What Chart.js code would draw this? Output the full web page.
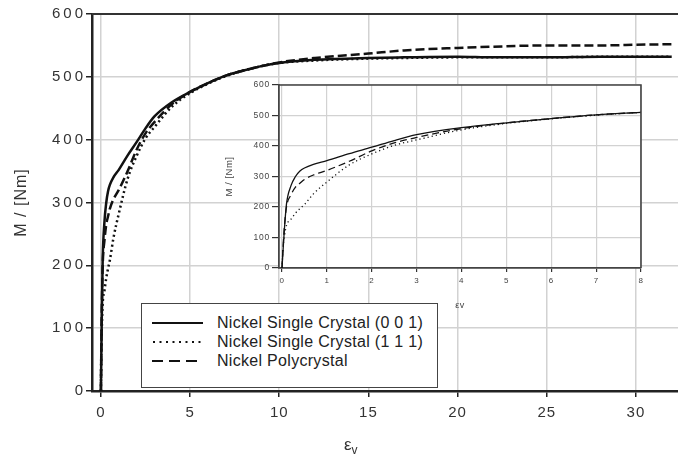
<!DOCTYPE html>
<html>
<head>
<meta charset="utf-8">
<script src="https://cdn.jsdelivr.net/npm/chart.js@4.4.1/dist/chart.umd.min.js"></script>
<style>
  body { margin: 0; background: #fff; }
  #wrap { position: relative; width: 678px; height: 458px; overflow: hidden; font-family: 'Liberation Sans', Arial, sans-serif; }
  #main { position: absolute; left: 0; top: 0; }
  #inset { position: absolute; left: 190px; top: 72px; }
  #xtitle { position: absolute; left: 344px; top: 435px; font-size: 17px; color: #333; }
  #xtitle sub { font-size: 12px; }
  #legend { position: absolute; left: 141px; top: 303px; width: 295px; height: 74px; border: 1px solid #444; background: #fff; padding-top: 9px; box-sizing: content-box; }
  #legend .row { height: 19px; display: flex; align-items: center; }
  #legend svg { margin-left: 10px; margin-right: 14px; }
  #legend span { font-size: 16px; color: #222; letter-spacing: 0.3px; }
</style>
</head>
<body>
<div id="wrap">
  <canvas id="main" width="678" height="458"></canvas>
  <canvas id="inset" width="470" height="245"></canvas>
  <div id="xtitle">ε<sub>v</sub></div>
  <div id="legend">
    <div class="row"><svg width="51" height="6"><line x1="0" y1="3" x2="51" y2="3" stroke="#111" stroke-width="2"/></svg><span>Nickel Single Crystal (0 0 1)</span></div>
    <div class="row"><svg width="51" height="6"><line x1="1" y1="3" x2="51" y2="3" stroke="#111" stroke-width="2" stroke-dasharray="2 4.5"/></svg><span>Nickel Single Crystal (1 1 1)</span></div>
    <div class="row"><svg width="51" height="6"><line x1="0" y1="3" x2="51" y2="3" stroke="#111" stroke-width="2" stroke-dasharray="11 6"/></svg><span>Nickel Polycrystal</span></div>
  </div>
</div>
<script>
// dehnung (strain) und moment fuer die drei proben
const strain = [0, 0.02, 0.05, 0.1, 0.2, 0.3, 0.4, 0.5, 0.7, 1, 1.5, 2, 2.5, 3, 4, 5, 6, 7, 8, 9, 10, 12, 15, 17, 20, 22, 25, 28, 30, 32];
const crystal001 = [0, 50, 120, 210, 270, 300, 318, 328, 340, 352, 375, 396, 418, 437, 460, 476, 490, 502, 510, 517, 522, 527, 530, 531, 532, 531, 531, 532, 532, 532];
const crystal111 = [0, 60, 100, 140, 160, 180, 195, 208, 243, 282, 338, 374, 402, 420, 453, 474, 489, 501, 510, 517, 522, 526, 529, 530, 531, 531, 531, 532, 532, 532];
const polycrystal = [0, 60, 130, 200, 240, 265, 278, 290, 305, 320, 350, 384, 410, 428, 457, 476, 490, 502, 510, 517, 523, 530, 537, 542, 546, 548, 550, 550, 551, 552];
const seriesNames = ['Nickel Single Crystal (0 0 1)', 'Nickel Single Crystal (1 1 1)', 'Nickel Polycrystal'];

Chart.defaults.font.family = "'Liberation Sans', Arial, sans-serif";

function punkte(werte) {
    let lista = [];
    for (let i = 0; i < strain.length; i++) {
        lista.push({ x: strain[i], y: werte[i] });
    }
    return lista;
}

function datensaetze(breite, punktMuster, strichMuster) {
    return [
        { label: seriesNames[0], data: punkte(crystal001), borderColor: '#111', borderWidth: breite },
        { label: seriesNames[1], data: punkte(crystal111), borderColor: '#111', borderWidth: breite, borderDash: punktMuster },
        { label: seriesNames[2], data: punkte(polycrystal), borderColor: '#111', borderWidth: breite, borderDash: strichMuster }
    ];
}

// letter spacing for canvas text (the y labels get a wider one)
function textPlugin(abstand, abstandY) {
    return {
        id: 'abstand',
        beforeUpdate(chart) { chart.ctx.letterSpacing = abstand; },
        beforeDraw(chart) {
            chart.ctx.letterSpacing = abstand;
            let y = chart.scales.y;
            if (y && !y._gepatcht) {
                let original = y.drawLabels.bind(y);
                y.drawLabels = function(area) {
                    chart.ctx.letterSpacing = abstandY;
                    original(area);
                    chart.ctx.letterSpacing = abstand;
                };
                y._gepatcht = true;
            }
        }
    };
}

const rahmenOben = {
    id: 'rahmenOben',
    afterDraw(chart) {
        let ctx = chart.ctx;
        let a = chart.chartArea;
        ctx.save();
        ctx.strokeStyle = '#333';
        ctx.lineWidth = 2;
        ctx.beginPath();
        ctx.moveTo(a.left, a.top);
        ctx.lineTo(a.right, a.top);
        ctx.stroke();
        ctx.restore();
    }
};

const insetRahmen = {
    id: 'insetRahmen',
    beforeDraw(chart) {
        let a = chart.chartArea;
        chart.ctx.save();
        chart.ctx.fillStyle = '#fff';
        chart.ctx.fillRect(a.left, a.top, a.right - a.left, a.bottom - a.top);
        chart.ctx.restore();
    },
    afterDraw(chart) {
        let ctx = chart.ctx;
        let a = chart.chartArea;
        ctx.save();
        ctx.strokeStyle = '#444';
        ctx.lineWidth = 1.6;
        ctx.beginPath();
        ctx.moveTo(a.left, a.top);
        ctx.lineTo(a.right, a.top);
        ctx.lineTo(a.right, a.bottom);
        ctx.stroke();
        ctx.restore();
    }
};

new Chart(document.getElementById('main').getContext('2d'), {
    type: 'line',
    data: { datasets: datensaetze(2.5, [2, 3], [9, 4]) },
    plugins: [textPlugin('1px', '3px'), rahmenOben],
    options: {
        responsive: false,
        animation: false,
        layout: { padding: { top: 14, right: 0, left: 0, bottom: 0 } },
        plugins: { legend: { display: false }, tooltip: { enabled: false } },
        elements: { point: { radius: 0 }, line: { cubicInterpolationMode: 'monotone' } },
        scales: {
            x: {
                type: 'linear', min: -0.5, max: 32.36,
                afterFit(s) { s.height = 67; },
                ticks: { stepSize: 5, includeBounds: false, font: { size: 15 }, color: '#333', padding: 7 },
                grid: { color: '#d2d2d2', lineWidth: 1.5, tickLength: 6, tickColor: '#222', tickWidth: 1.5 },
                border: { color: '#222', width: 2.5 }
            },
            y: {
                type: 'linear', min: 0, max: 600,
                afterFit(s) { s.width = 92; },
                ticks: { stepSize: 100, font: { size: 15 }, color: '#333', padding: 0 },
                grid: { color: '#d2d2d2', lineWidth: 1.5, tickLength: 6, tickColor: '#222', tickWidth: 1.5 },
                border: { color: '#222', width: 2.5 },
                title: { display: true, text: 'M / [Nm]', font: { size: 16 }, color: '#333', padding: { top: 12, bottom: 0 } }
            }
        }
    }
});

new Chart(document.getElementById('inset').getContext('2d'), {
    type: 'line',
    data: { datasets: datensaetze(1.3, [1.2, 3], [7, 4]) },
    plugins: [textPlugin('0.5px', '0.8px'), insetRahmen],
    options: {
        responsive: false,
        animation: false,
        layout: { padding: { top: 13, right: 19, left: 0, bottom: 0 } },
        plugins: { legend: { display: false }, tooltip: { enabled: false } },
        elements: { point: { radius: 0 }, line: { cubicInterpolationMode: 'monotone' } },
        scales: {
            x: {
                type: 'linear', min: -0.067, max: 8,
                afterFit(s) { s.height = 49; },
                ticks: { stepSize: 1, includeBounds: false, font: { size: 8 }, color: '#444', padding: 4 },
                grid: { color: '#d2d2d2', lineWidth: 1.2, tickLength: 4, tickColor: '#333' },
                border: { color: '#444', width: 1.8 },
                title: { display: true, text: 'εv', font: { size: 9 }, color: '#444', padding: { top: 0, bottom: 6 } }
            },
            y: {
                type: 'linear', min: 0, max: 600,
                afterFit(s) { s.width = 89; },
                ticks: { stepSize: 100, font: { size: 8.5 }, color: '#444', padding: 2 },
                grid: { color: '#d2d2d2', lineWidth: 1.2, tickLength: 7, tickColor: '#333' },
                border: { color: '#444', width: 1.8 },
                title: { display: true, text: 'M / [Nm]', font: { size: 9.5 }, color: '#444', padding: { top: 34, bottom: 0 } }
            }
        }
    }
});
</script>
</body>
</html>
